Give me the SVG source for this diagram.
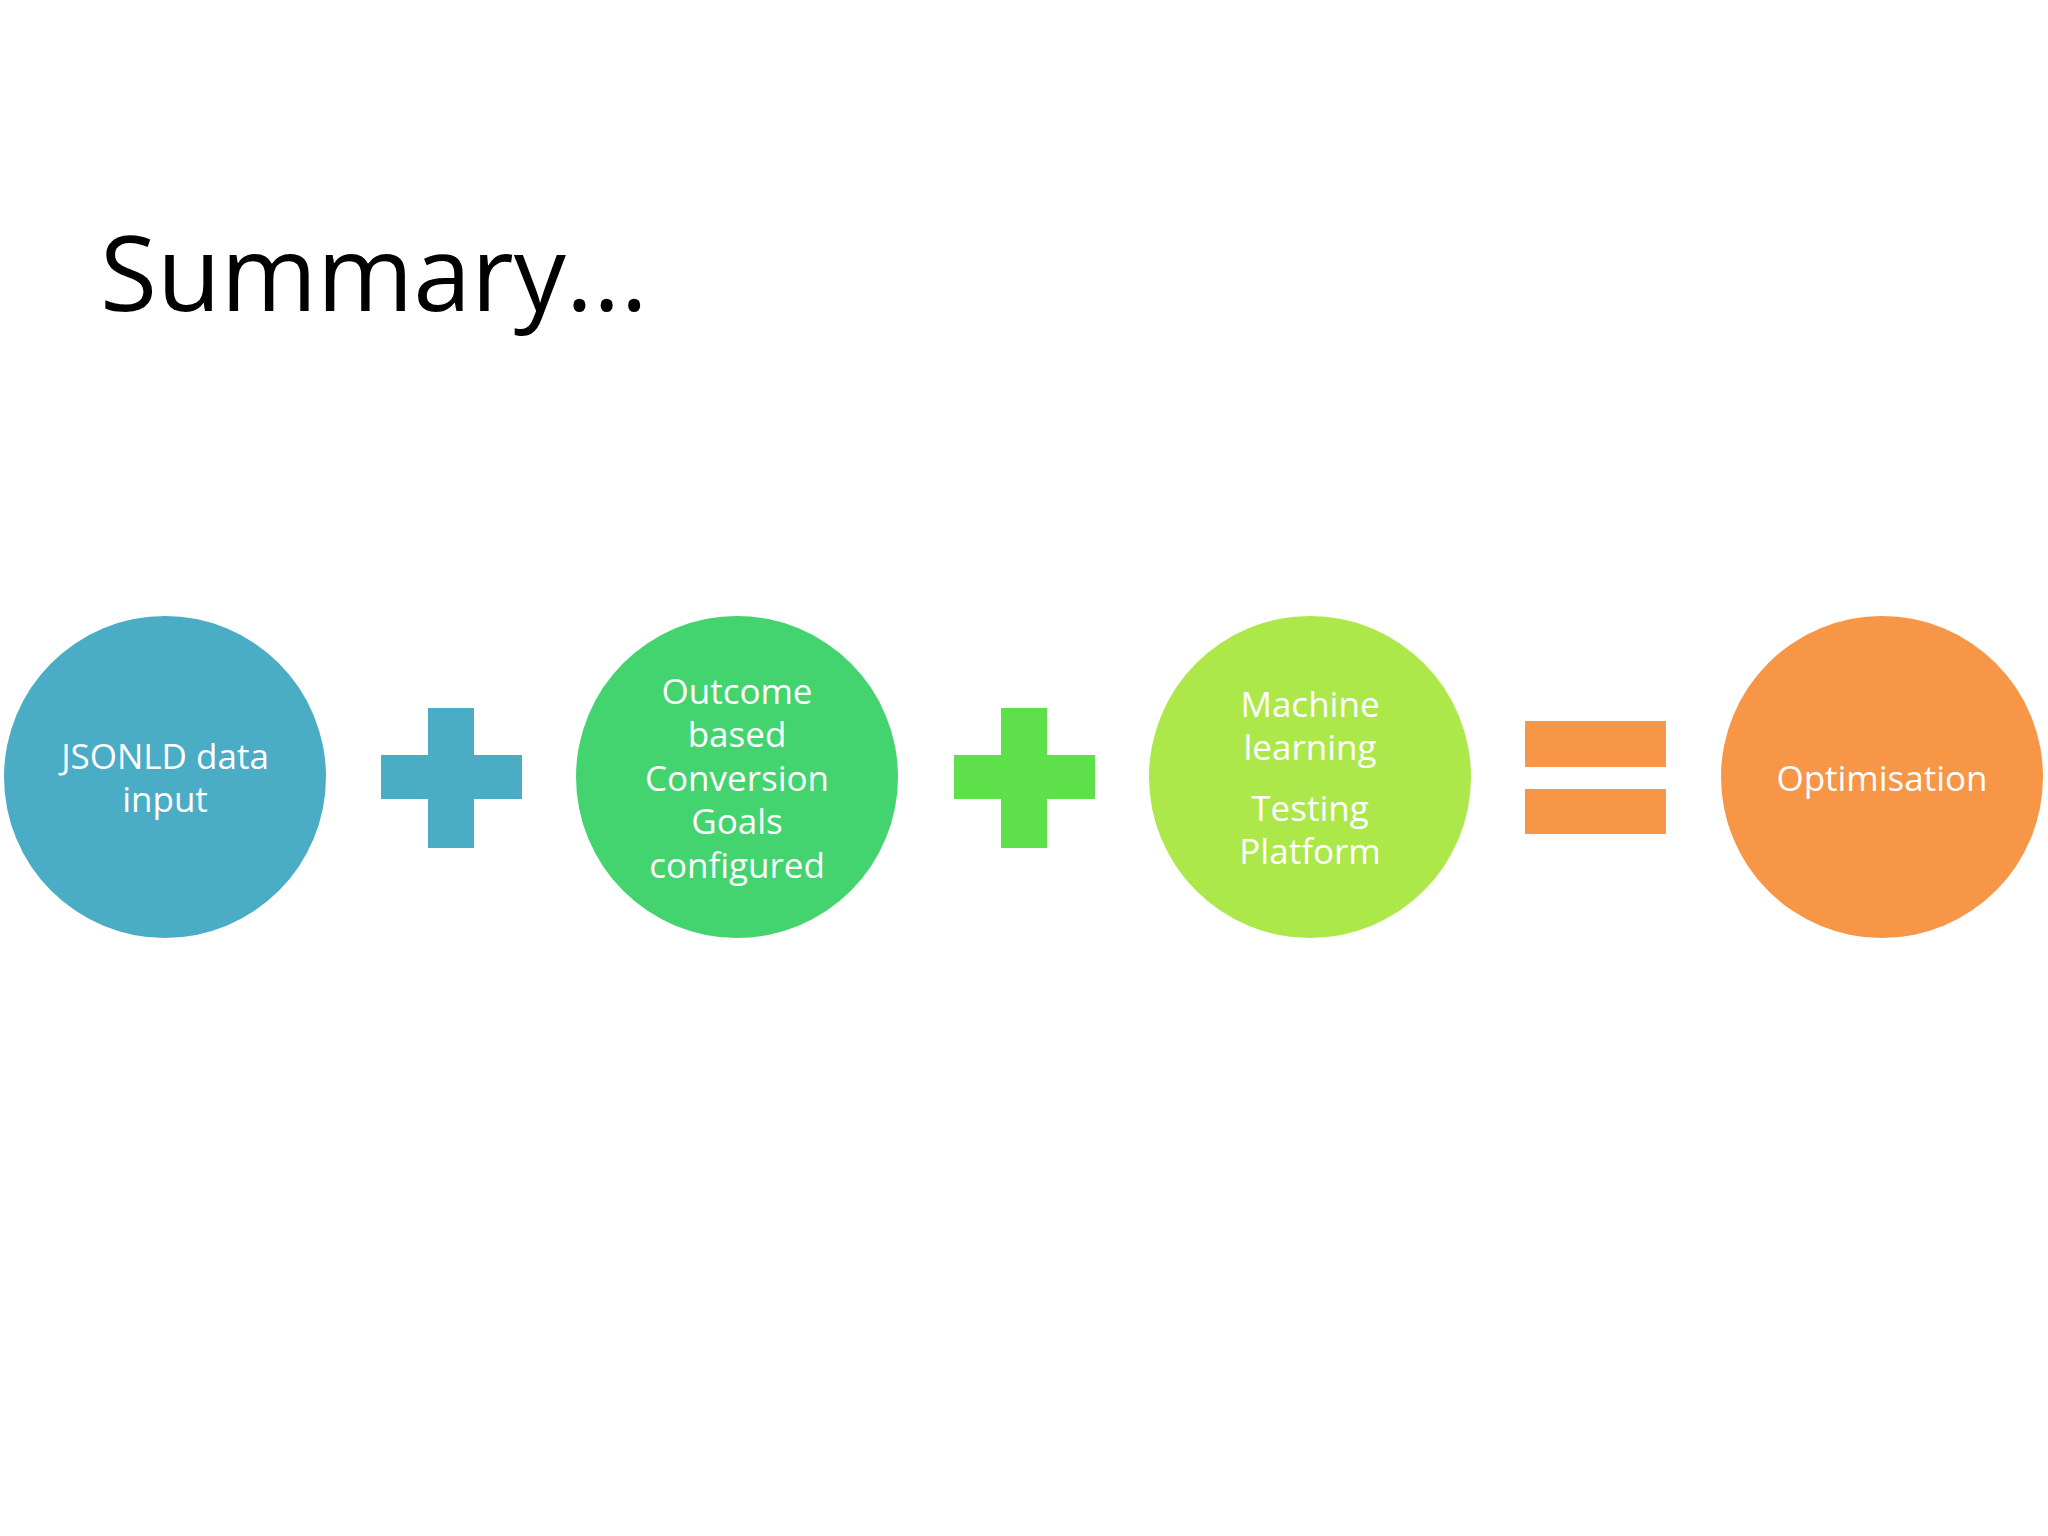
<svg xmlns="http://www.w3.org/2000/svg" width="2048" height="1536" viewBox="0 0 2048 1536">
<style>
.t{font-family:"Open Sans","Liberation Sans",sans-serif;font-size:35px;fill:#fff;text-anchor:middle;dominant-baseline:central}
</style>
<rect width="2048" height="1536" fill="#fff"/>
<text x="100" y="311" font-family="Open Sans, Liberation Sans, sans-serif" font-size="104" fill="#000">Summary...</text>
<g id="n1"><circle cx="165" cy="777" r="161" fill="#4BACC6"/><text class="t" x="165" y="755">JSONLD data</text><text class="t" x="165" y="798">input</text></g>
<g id="n2"><circle cx="737" cy="777" r="161" fill="#44D46F"/><text class="t" x="737" y="690">Outcome</text><text class="t" x="737" y="733">based</text><text class="t" x="737" y="777">Conversion</text><text class="t" x="737" y="820">Goals</text><text class="t" x="737" y="864">configured</text></g>
<g id="n3"><circle cx="1310" cy="777" r="161" fill="#ADE84A"/><text class="t" x="1310" y="703">Machine</text><text class="t" x="1310" y="746">learning</text><text class="t" x="1310" y="807">Testing</text><text class="t" x="1310" y="850">Platform</text></g>
<g id="n4"><circle cx="1882" cy="777" r="161" fill="#F79646"/><text class="t" x="1882" y="777">Optimisation</text></g>
<g id="connectors">
<path d="M428 708h46v47h48v44h-48v49h-46v-49h-47v-44h47z" fill="#4BACC6"/>
<path d="M1001 708h46v47h48v44h-48v49h-46v-49h-47v-44h47z" fill="#5EE04A"/>
<rect x="1525" y="721" width="141" height="46" fill="#F79646"/>
<rect x="1525" y="789" width="141" height="45" fill="#F79646"/>
</g>
</svg>
